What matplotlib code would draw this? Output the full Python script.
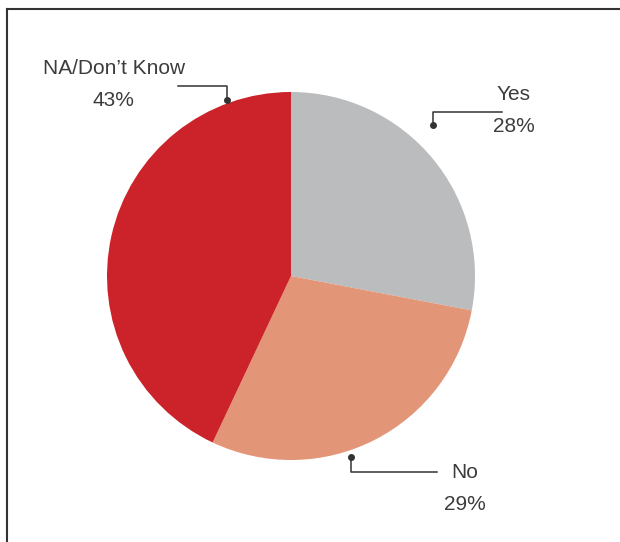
import matplotlib
matplotlib.use("Agg")
import matplotlib.pyplot as plt
from matplotlib.lines import Line2D

labels = ["Yes", "No", "NA/Don't Know"]
shares = [28, 29, 43]
colors = ["#bbbcbe", "#e29577", "#cc2229"]

W, H = 620, 542
fig = plt.figure(figsize=(W / 100, H / 100), dpi=100)
ax = fig.add_axes([0, 0, 1, 1])

# pie in pixel-like coordinates (y measured from the bottom)
ax.pie(shares, colors=colors, startangle=90, counterclock=False,
       center=(291, H - 276), radius=184, frame=True,
       wedgeprops=dict(linewidth=0))
ax.set_xlim(0, W)
ax.set_ylim(0, H)
ax.set_aspect("equal")
ax.axis("off")

# frame: top and left edges only
fig.add_artist(Line2D([7, W], [H - 9, H - 9], transform=None, color="#333333", lw=1.5))
fig.add_artist(Line2D([7, 7], [0, H - 9], transform=None, color="#333333", lw=1.5))

txt = dict(fontsize=15, color="#3c3c3c", family="Liberation Sans", ha="center", va="center")
line = dict(color="#333333", lw=1.1)

def y(v):
    return H - v

# Yes
ax.plot([433, 433, 502], [y(125), y(112), y(112)], **line)
ax.plot(433, y(125), "o", color="#333333", ms=4)
ax.text(514, y(95), labels[0], **txt)
ax.text(514, y(127), f"{shares[0]}%", **txt)

# No
ax.plot([351, 351, 437], [y(457), y(472), y(472)], **line)
ax.plot(351, y(457), "o", color="#333333", ms=4)
ax.text(465, y(473), labels[1], **txt)
ax.text(465, y(505), f"{shares[1]}%", **txt)

# NA / Don't know
ax.plot([227, 227, 178], [y(100), y(86), y(86)], **line)
ax.plot(227, y(100), "o", color="#333333", ms=4)
ax.text(114, y(68), "NA/Don\u2019t Know", **txt)
ax.text(113, y(100), f"{shares[2]}%", **txt)

fig.savefig("out.png", dpi=100)
